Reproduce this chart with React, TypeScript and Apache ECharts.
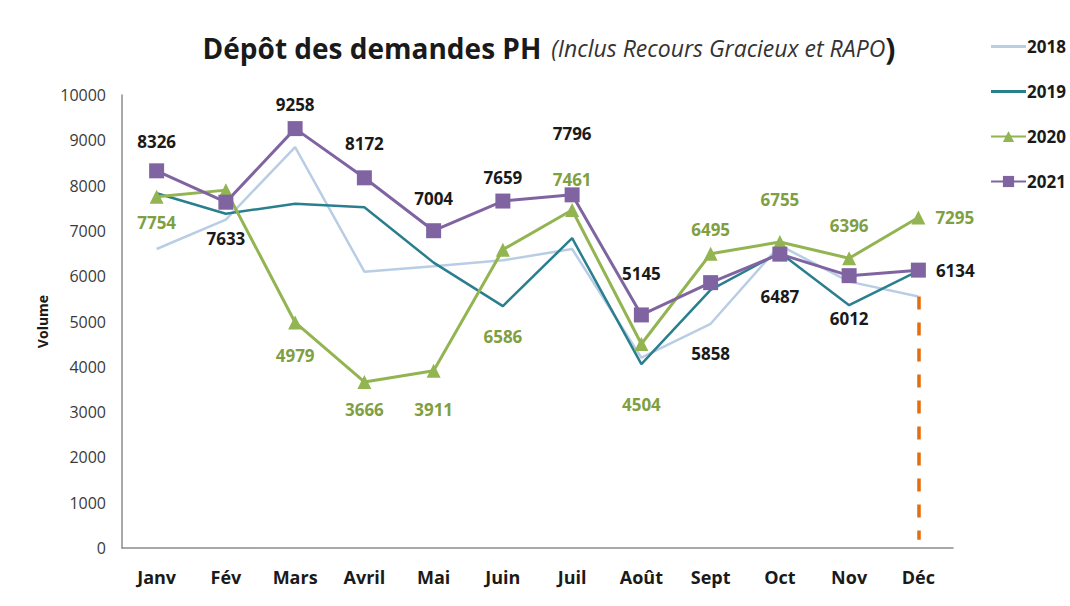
import React, { useEffect, useRef } from "react";
import * as echarts from "echarts";

const months = ["Janv", "Fév", "Mars", "Avril", "Mai", "Juin", "Juil", "Août", "Sept", "Oct", "Nov", "Déc"];
const yTicks = [0, 10000, 1000];
const s2018 = [6600, 7250, 8850, 6100, 6220, 6350, 6600, 4200, 4950, 6680, 5880, 5550];
const s2019 = [7830, 7380, 7600, 7520, 6300, 5340, 6840, 4060, 5700, 6520, 5360, 6120];
const s2020 = [7754, 7900, 4979, 3666, 3911, 6586, 7461, 4504, 6495, 6755, 6396, 7295];
const s2021 = [8326, 7633, 9258, 8172, 7004, 7659, 7796, 5145, 5858, 6487, 6012, 6134];
const decDropBottom = 180;

// label placement (layout only)
const pos2021 = ["top", "bottom", "top", "top", "top", "top", "top", "top", "bottom", "bottom", "bottom", "right"];
const dist2021 = [13, 20, 8, 18, 16, 8, 45, 25, 55, 26, 27, 10];
const pos2020 = ["bottom", "none", "bottom", "bottom", "bottom", "bottom", "top", "bottom", "top", "top", "top", "right"];
const dist2020 = [10, 0, 18, 12, 23, 71, 15, 45, 9, 27, 17, 10];

const FONT = "'Open Sans', 'Noto Sans', sans-serif";
const LINE_ICON = "path://M0,0 L35,0 L35,3 L0,3 Z";

export default function App() {
  const ref = useRef<HTMLDivElement>(null);
  useEffect(() => {
    if (!ref.current) return;
    const chart = echarts.init(ref.current, null, { renderer: "svg" });
    const mkData = (vals: number[], pos: string[], dist: number[], color: string) =>
      vals.map((v, i) => ({
        value: v,
        label:
          pos[i] === "none"
            ? { show: false }
            : { show: true, position: pos[i], distance: dist[i], color, fontWeight: "bold", fontSize: 17, fontFamily: FONT },
      }));
    chart.setOption({
      animation: false,
      backgroundColor: "#ffffff",
      title: {
        text: "{a|Dépôt des demandes PH}  {b|(Inclus Recours Gracieux et RAPO}{c|)}",
        left: 544,
        textAlign: "center",
        top: 28,
        textStyle: {
          rich: {
            a: { fontFamily: FONT, fontWeight: "bold", fontSize: 28, color: "#1a1a1a" },
            b: { fontFamily: FONT, fontStyle: "italic", fontWeight: "normal", fontSize: 23, color: "#333333" },
            c: { fontFamily: FONT, fontWeight: "bold", fontSize: 30, color: "#1a1a1a" },
          },
        },
      },
      legend: {
        orient: "vertical",
        left: 985,
        top: 33,
        itemWidth: 35,
        itemHeight: 14,
        itemGap: 28,
        textStyle: { fontFamily: FONT, fontWeight: "bold", fontSize: 17, color: "#1a1a1a", padding: [0, 0, 0, -4] },
        data: [
          { name: "2018", icon: LINE_ICON },
          { name: "2019", icon: LINE_ICON },
          { name: "2020" },
          { name: "2021" },
        ],
      },
      grid: { left: 122, right: 117, top: 95, bottom: 58 },
      xAxis: {
        type: "category",
        data: months,
        boundaryGap: true,
        axisLine: { lineStyle: { color: "#8c8c8c", width: 1.5 } },
        axisTick: { show: false },
        axisLabel: { fontFamily: FONT, fontWeight: "bold", fontSize: 18, color: "#1a1a1a", margin: 20 },
      },
      yAxis: {
        type: "value",
        min: yTicks[0],
        max: yTicks[1],
        interval: yTicks[2],
        name: "Volume",
        nameLocation: "middle",
        nameGap: 70,
        nameRotate: 90,
        nameTextStyle: { fontFamily: FONT, fontWeight: "bold", fontSize: 14, color: "#1a1a1a" },
        axisLine: { show: true, lineStyle: { color: "#8c8c8c", width: 1.5 } },
        axisTick: { show: false },
        splitLine: { show: false },
        axisLabel: { fontFamily: FONT, fontSize: 16, color: "#3a3a3a", margin: 16, formatter: (v: number) => String(v) },
      },
      series: [
        {
          name: "2018",
          type: "line",
          data: s2018,
          symbol: "none",
          color: "#b9cde5",
          lineStyle: { width: 2.5, color: "#b9cde5" },
          markLine: {
            silent: true,
            symbol: "none",
            label: { show: false },
            lineStyle: { color: "#e46c0a", width: 3.5, type: [13, 13] },
            data: [[{ coord: [months[11], s2018[11]] }, { coord: [months[11], decDropBottom] }]],
          },
        },
        {
          name: "2019",
          type: "line",
          data: s2019,
          symbol: "none",
          color: "#2a7f8e",
          lineStyle: { width: 2.5, color: "#2a7f8e" },
        },
        {
          name: "2020",
          type: "line",
          data: mkData(s2020, pos2020, dist2020, "#7f9f42"),
          symbol: "triangle",
          symbolSize: 14,
          color: "#92b451",
          lineStyle: { width: 3, color: "#92b451" },
          itemStyle: { color: "#92b451" },
        },
        {
          name: "2021",
          type: "line",
          data: mkData(s2021, pos2021, dist2021, "#1a1a1a"),
          symbol: "rect",
          symbolSize: 15,
          color: "#8064a2",
          lineStyle: { width: 3, color: "#8064a2" },
          itemStyle: { color: "#8064a2" },
        },
      ],
    });
    return () => chart.dispose();
  }, []);
  return <div ref={ref} style={{ position: "absolute", left: 0, top: 0, width: 1070, height: 606 }} />;
}
